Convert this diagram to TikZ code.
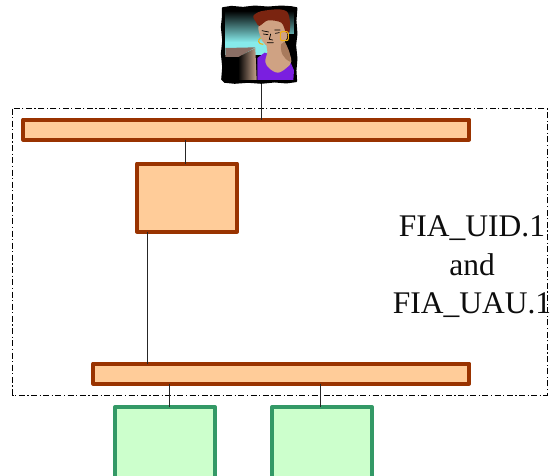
\documentclass[tikz,border=0pt]{standalone}
\usepackage{fontspec}
\setmainfont{Liberation Serif}
\definecolor{orfill}{HTML}{FFCC99}
\definecolor{ordraw}{HTML}{993300}
\definecolor{grfill}{HTML}{CCFFCC}
\definecolor{grdraw}{HTML}{339966}
\definecolor{skin}{HTML}{CFA283}
\definecolor{skindark}{HTML}{A87A5C}
\definecolor{hair}{HTML}{7A2410}
\definecolor{shirt}{HTML}{7A1FE0}
\definecolor{sky}{HTML}{86EBEB}
\definecolor{casetop}{HTML}{8A6E64}
\definecolor{casefront}{HTML}{C8A48C}
\definecolor{gold}{HTML}{F2B010}
\tikzset{
  orbox/.style={draw=ordraw,fill=orfill,line width=4pt,line join=round,rectangle,inner sep=0pt,outer sep=0pt},
  grbox/.style={draw=grdraw,fill=grfill,line width=4pt,line join=round,rectangle,inner sep=0pt,outer sep=0pt},
  link/.style={draw=black!85,line width=0.8pt},
  zone/.style={draw=black,line width=0.8pt,dash pattern=on 6pt off 2.5pt on 1.2pt off 2.5pt},
  label/.style={font=\fontsize{31.5}{38.5}\selectfont,align=center,text=black!95,inner sep=0pt}
}
\begin{document}
\begin{tikzpicture}[x=1pt,y=-1pt]
\useasboundingbox (0,0) rectangle (551,475);
\clip (0,0) rectangle (551,475);
% security boundary
\draw[zone] (12.5,108.5) rectangle (547,395);
% boxes
\node[orbox,minimum width=446pt,minimum height=20pt] (bartop) at (246.2,129.5) {};
\node[orbox,minimum width=100pt,minimum height=68pt] (mid) at (187,197.5) {};
\node[orbox,minimum width=376pt,minimum height=20pt] (barbot) at (281.2,373.5) {};
\node[grbox,minimum width=100pt,minimum height=80pt] (gleft) at (165,447) {};
\node[grbox,minimum width=100pt,minimum height=80pt] (gright) at (322,447) {};
\node[minimum width=74pt,minimum height=76pt,inner sep=0pt,outer sep=0pt] (portrait) at (259,45) {};
% connectors
\coordinate (ca) at (261,0);
\coordinate (cb) at (185,0);
\coordinate (cc) at (147.5,0);
\coordinate (cd) at (169,0);
\coordinate (ce) at (320.5,0);
\draw[link] (portrait.south -| ca) -- (bartop.north -| ca);
\draw[link] (bartop.south -| cb) -- (mid.north -| cb);
\draw[link] (mid.south -| cc) -- (barbot.north -| cc);
\draw[link] (barbot.south -| cd) -- (gleft.north -| cd);
\draw[link] (barbot.south -| ce) -- (gright.north -| ce);
% text
\node[label] (txt) at (472,267) {FIA\_UID.1\\and\\FIA\_UAU.1};
% portrait, in the coordinates of a 3x crop
\begin{scope}[shift={(218,2)},x=0.3333pt,y=-0.3333pt]
  \fill[black,draw=black,line width=1.6pt,line join=round]
    (14,18)--(40,14)--(75,17)--(110,13)--(150,16)--(190,13)--(220,15)--(236,18)
    --(233,55)--(236,95)--(232,130)--(236,170)--(233,205)--(235,238)
    --(205,242)--(170,239)--(130,243)--(90,240)--(50,243)--(20,240)--(12,232)
    --(15,195)--(11,155)--(15,115)--(11,75)--(14,45)--cycle;
  % background
  \shade[top color=black,bottom color=sky] (22,26) rectangle (226,120);
  \fill[sky] (22,120) rectangle (170,160);
  % dark area behind the woman
  \fill[black] (200,95) rectangle (228,232);
  % computer
  \fill[casetop] (22,138) -- (112,136) -- (62,166) -- (22,166) -- cycle;
  \fill[black] (22,166) rectangle (64,234);
  \shade[left color=black,right color=casefront] (60,166) -- (112,138) -- (116,234) -- (60,234) -- cycle;
  % torso
  \fill[shirt] (118,234) -- (118,168) -- (140,152) -- (215,175) -- (228,205) -- (226,234) -- cycle;
  % neck and chest
  \fill[skin] plot[smooth cycle,tension=0.6] coordinates {(148,122) (190,115) (208,140) (220,178) (205,198) (180,212) (155,200) (142,180) (148,150)};
  \fill[skindark] (190,122) .. controls (185,150) and (195,170) .. (218,180) .. controls (218,150) and (208,135) .. (200,118) -- cycle;
  % face
  \fill[skin] plot[smooth cycle,tension=0.6] coordinates {(122,72) (150,52) (190,58) (208,100) (195,122) (165,134) (142,128) (128,105)};
  \draw[black,line width=0.7pt,line cap=round]
    (132,86) -- (152,90) (170,84) -- (186,84)
    (136,96) -- (150,98) (172,94) -- (184,92)
    (158,96) -- (154,112) -- (164,114)
    (148,122) -- (166,122);
  % hair
  \fill[hair] plot[smooth cycle,tension=0.5] coordinates {(106,42) (128,28) (180,22) (208,30) (216,62) (214,92) (204,92) (190,62) (150,55) (124,72) (114,60)};
  % earrings
  \draw[gold,line width=1.1pt,rounded corners=2pt] (187,89) rectangle (211,116);
  \draw[gold,line width=1.1pt] (128,108) .. controls (118,112) and (120,128) .. (136,127);
\end{scope}
\end{tikzpicture}
\end{document}
